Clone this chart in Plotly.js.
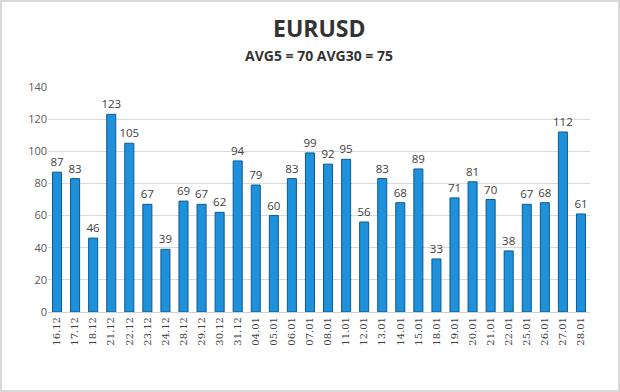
<!DOCTYPE html>
<html><head><meta charset="utf-8">
<script src="https://cdn.plot.ly/plotly-3.0.1.min.js"></script>
<style>html,body{margin:0;padding:0;background:#fff}#frame{position:absolute;left:0;top:0;width:620px;height:392px;box-sizing:border-box;border:2px solid #d9d9d9;pointer-events:none}</style>
</head><body>
<div id="chart" style="width:620px;height:392px"></div>
<div id="frame"></div>
<script>
const dates = ["16.12","17.12","18.12","21.12","22.12","23.12","24.12","28.12","29.12","30.12","31.12","04.01","05.01","06.01","07.01","08.01","11.01","12.01","13.01","14.01","15.01","18.01","19.01","20.01","21.01","22.01","25.01","26.01","27.01","28.01"];
const values = [87,83,46,123,105,67,39,69,67,62,94,79,60,83,99,92,95,56,83,68,89,33,71,81,70,38,67,68,112,61];
const yTicks = [0,20,40,60,80,100,120,140];
const titleText = "EURUSD";
const subtitleText = "AVG5 = 70 AVG30 = 75";

const trace = {
  type: "bar", x: dates, y: values,
  text: values.map(String), textposition: "outside", cliponaxis: false, constraintext: "none",
  textfont: {family: "Open Sans, sans-serif", size: 11.5, color: "#404040"},
  marker: {color: "#1f90da", line: {color: "#0a5a94", width: 1}},
  hoverinfo: "none"
};
const layout = {
  width: 620, height: 392,
  margin: {l: 48, r: 30, t: 87, b: 80},
  paper_bgcolor: "#fff", plot_bgcolor: "#fff",
  bargap: 0.5, showlegend: false,
  title: {text: ""},
  xaxis: {type: "category", tickangle: -90, tickfont: {family: "DejaVu Serif, serif", size: 10, color: "#404040"}, showgrid: false, showline: true, linecolor: "#d0d0d0", ticks: ""},
  yaxis: {range: [0, 140], tickvals: yTicks, ticktext: yTicks.map(String), tickfont: {family: "Open Sans, sans-serif", size: 11, color: "#595959"}, gridcolor: "#d9d9d9", zeroline: false, showline: false, ticks: ""},
  annotations: [
    {text: "<b>" + titleText + "</b>", xref: "paper", yref: "paper", x: 0.5, y: 1, yshift: 59, showarrow: false, xanchor: "center", yanchor: "middle", font: {family: "Open Sans, sans-serif", size: 23, color: "#333333"}},
    {text: "<b>" + subtitleText + "</b>", xref: "paper", yref: "paper", x: 0.5, y: 1, yshift: 32, showarrow: false, xanchor: "center", yanchor: "middle", font: {family: "Open Sans, sans-serif", size: 14, color: "#333333"}}
  ]
};
Plotly.newPlot("chart", [trace], layout, {staticPlot: true, displayModeBar: false});
</script>
</body></html>
